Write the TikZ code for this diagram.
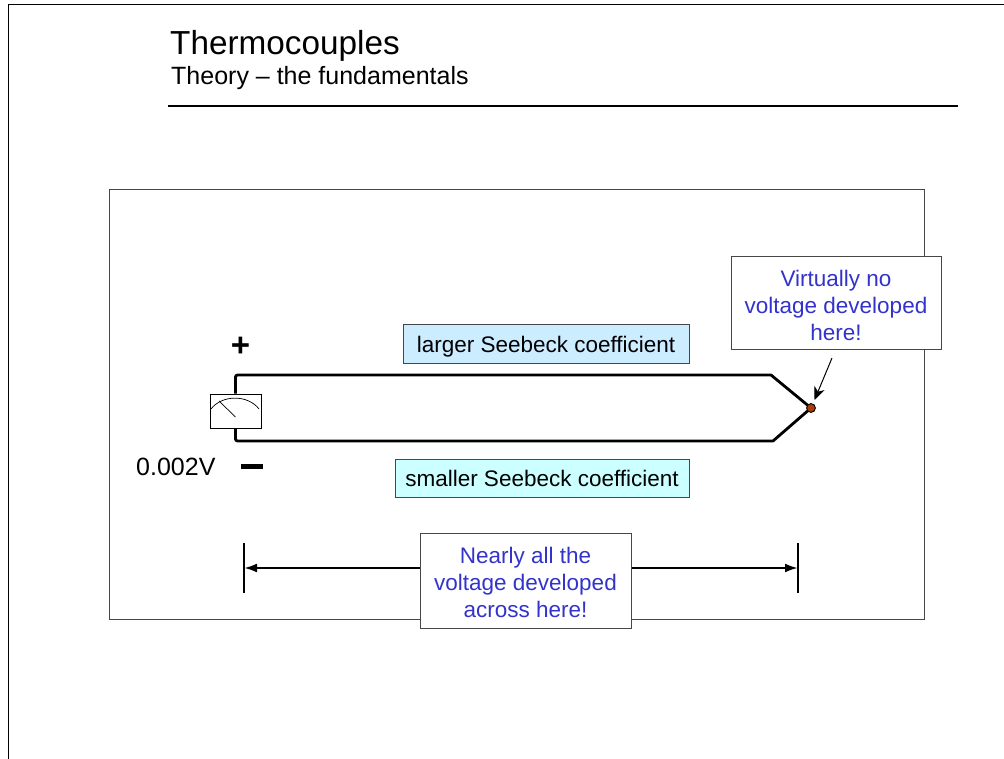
\documentclass[tikz,border=0pt]{standalone}
\usepackage{fontspec}
\setmainfont{Liberation Sans}
\usetikzlibrary{arrows.meta}
\definecolor{framegray}{RGB}{70, 70, 70}
\definecolor{noteblue}{RGB}{51, 51, 204}
\definecolor{largerblue}{RGB}{204, 236, 255}
\definecolor{smallercyan}{RGB}{204, 255, 255}
\definecolor{junction}{RGB}{170, 60, 10}
\tikzset{
  wire/.style={line width=2.8pt, line join=round},
  notebox/.style={draw=framegray, fill=white, line width=1pt, text=noteblue, align=center, font=\fontsize{22.5}{27}\selectfont, inner sep=0pt},
  coefbox/.style={draw=framegray, line width=1pt, font=\fontsize{22.5}{27}\selectfont, inner sep=0pt, text depth=0pt}
}
\begin{document}
\begin{tikzpicture}[x=1pt, y=-1pt]
        \useasboundingbox (0,0) rectangle (1004,759);
        \fill[white]                                (0,0) rectangle (1004,759);
        % page and panel
        \draw[line width=1.4pt]                     (8.5,759) -- (8.5,4.5) -- (1004,4.5);
        \draw[line width=1.2pt]                     (168,106) -- (958,106);
        \draw[framegray, line width=1pt]            (109,190) rectangle (924,619);
        \node[anchor=base west, font=\fontsize{33.3}{33}\selectfont, inner sep=0pt] (title)    at (170,54.5) {Thermocouples};
        \node[anchor=base west, font=\fontsize{25}{25}\selectfont, inner sep=0pt] (subtitle) at (171,85) {Theory -- the fundamentals};
        % meter
        \node[draw=black, fill=white, line width=0.8pt, minimum width=51pt, minimum height=34pt, inner sep=0pt] (meter) at (235.5,411) {};
        \draw[line width=0.7pt] (211,409) .. controls (222,394.5) and (248,394.5) .. (259,409);
        \draw[line width=0.7pt] (235.5,417) -- (219,401);
        % thermocouple wires
        \coordinate (hot) at (811,408);
        \draw[wire] (meter.north) -- (235.5,377) to[out=90,in=180,looseness=1] (237.5,375) -- (771,375) -- (hot);
        \draw[wire] (meter.south) -- (235.5,439) to[out=-90,in=180,looseness=1] (237.5,441) -- (773,441) -- (hot);
        \filldraw[color=black, fill=junction, line width=0.9pt] (hot) circle (4.4pt);
        \node[font=\bfseries\fontsize{33}{33}\selectfont, inner sep=0pt] (plus)  at (240.5,346.5) {+};
        \fill (241,463.5) rectangle (263,468.5);
        \node[anchor=base west, font=\fontsize{25}{25}\selectfont, inner sep=0pt] (reading) at (136,475) {0.002V};
        % coefficient labels
        \node[coefbox, fill=largerblue,  minimum width=286pt, minimum height=38pt] (larger)  at (546,344) {larger Seebeck coefficient};
        \node[coefbox, fill=smallercyan, minimum width=294pt, minimum height=38pt] (smaller) at (542,478) {smaller Seebeck coefficient};
        % notes and span
        \node[notebox, minimum width=210pt, minimum height=92pt] (tipnote) at (836,303) {\rule{0pt}{21pt}Virtually no\\voltage developed\\here!};
        \coordinate (tipstart) at (832,358);
        \coordinate (tipend)   at (814.5,400);
        \draw[-{Stealth[length=13pt,width=11pt,inset=4pt]}, line width=1pt] (tipstart) -- (tipend);
        \coordinate (spanleft)  at (244,568);
        \coordinate (spanright) at (798,568);
        \draw[line width=2.8pt] (244,543) -- (244,593);
        \draw[line width=2.8pt] (798,543) -- (798,593);
        \node[notebox, minimum width=211pt, minimum height=95pt] (spannote) at (525.5,580.5) {\rule{0pt}{21pt}Nearly all the\\voltage developed\\across here!};
        \draw[-{Latex[length=13pt,width=9pt]}, line width=2.4pt] (spannote.west |- spanleft) -- (spanleft);
        \draw[-{Latex[length=13pt,width=9pt]}, line width=2.4pt] (spannote.east |- spanright) -- (spanright);
\end{tikzpicture}
\end{document}
